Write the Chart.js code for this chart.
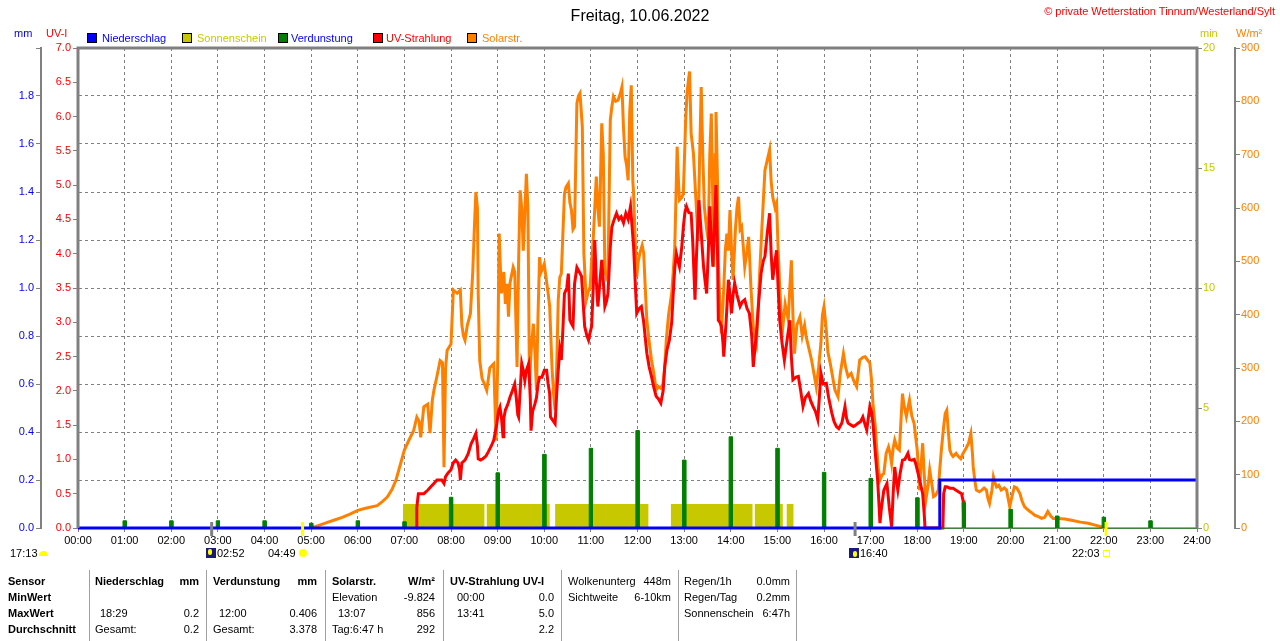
<!DOCTYPE html>
<html>
<head>
<meta charset="utf-8">
<script src="https://cdn.jsdelivr.net/npm/chart.js@4.4.0/dist/chart.umd.min.js"></script>
<style>
body { margin: 0; background: #fff; font-family: "Liberation Sans", Arial, sans-serif; font-size: 11px; }
#wrap { position: relative; width: 1280px; height: 641px; overflow: hidden; }
#myChart { position: absolute; left: 0; top: 0; }
.t { position: absolute; white-space: nowrap; line-height: 13px; }
.b { font-weight: bold; }
.sq { position: absolute; width: 8px; height: 8px; border: 1px solid #000; }
.sep { position: absolute; top: 570px; width: 1px; height: 71px; background: #a0a0a0; }
.moon { position: absolute; width: 10px; height: 10px; background: #1a1a7a; }
</style>
</head>
<body>
<div id="wrap">
<canvas id="myChart" width="1280" height="641"></canvas>

<div class="t" style="left:0;width:1280px;text-align:center;top:8px;font-size:16px;line-height:16px;">Freitag, 10.06.2022</div>
<div class="t" style="right:5px;top:5px;color:#f00;">© private Wetterstation Tinnum/Westerland/Sylt</div>

<div class="t" style="left:14px;top:27px;color:#00f;">mm</div>
<div class="t" style="left:46px;top:27px;color:#f00;">UV-I</div>
<div class="t" style="left:1200px;top:27px;color:#c8c800;">min</div>
<div class="t" style="left:1236px;top:27px;color:#ff8000;">W/m²</div>

<div class="sq" style="left:87px;top:33px;background:#00f;"></div>
<div class="t" style="left:102px;top:32px;color:#00f;">Niederschlag</div>
<div class="sq" style="left:182px;top:33px;background:#c8c800;"></div>
<div class="t" style="left:197px;top:32px;color:#c8c800;">Sonnenschein</div>
<div class="sq" style="left:278px;top:33px;background:#008000;"></div>
<div class="t" style="left:291px;top:32px;color:#00f;">Verdunstung</div>
<div class="sq" style="left:373px;top:33px;background:#f00;"></div>
<div class="t" style="left:386px;top:32px;color:#f00;">UV-Strahlung</div>
<div class="sq" style="left:467px;top:33px;background:#ff8000;"></div>
<div class="t" style="left:482px;top:32px;color:#ff8000;">Solarstr.</div>

<div class="t" style="left:10px;top:547px;">17:13</div>
<div style="position:absolute;left:39px;top:551px;width:9px;height:5px;background:#ff0;border-radius:5px 5px 0 0;"></div>
<div class="moon" style="left:206px;top:548px;"><div style="position:absolute;left:2px;top:1px;width:4px;height:6px;background:#ff0;border-radius:2px;"></div></div>
<div class="t" style="left:217px;top:547px;">02:52</div>
<div class="t" style="left:268px;top:547px;">04:49</div>
<div style="position:absolute;left:299px;top:549px;width:8px;height:8px;background:#ff0;border-radius:50%;"></div>
<div class="moon" style="left:849px;top:548px;"><div style="position:absolute;left:4px;top:3px;width:4px;height:6px;background:#ff0;border-radius:2px;"></div></div>
<div class="t" style="left:860px;top:547px;">16:40</div>
<div class="t" style="left:1072px;top:547px;">22:03</div>
<div style="position:absolute;left:1103px;top:550px;width:5px;height:5px;border:1px solid #ff0;"></div>

<div class="sep" style="left:89px;"></div>
<div class="sep" style="left:206px;"></div>
<div class="sep" style="left:325px;"></div>
<div class="sep" style="left:443px;"></div>
<div class="sep" style="left:561px;"></div>
<div class="sep" style="left:678px;"></div>
<div class="sep" style="left:796px;"></div>

<div class="t b" style="left:8px;top:575px;">Sensor</div>
<div class="t b" style="left:8px;top:591px;">MinWert</div>
<div class="t b" style="left:8px;top:607px;">MaxWert</div>
<div class="t b" style="left:8px;top:623px;">Durchschnitt</div>

<div class="t b" style="left:95px;top:575px;">Niederschlag</div>
<div class="t b" style="right:1081px;top:575px;">mm</div>
<div class="t" style="left:100px;top:607px;">18:29</div>
<div class="t" style="right:1081px;top:607px;">0.2</div>
<div class="t" style="left:95px;top:623px;">Gesamt:</div>
<div class="t" style="right:1081px;top:623px;">0.2</div>

<div class="t b" style="left:213px;top:575px;">Verdunstung</div>
<div class="t b" style="right:963px;top:575px;">mm</div>
<div class="t" style="left:219px;top:607px;">12:00</div>
<div class="t" style="right:963px;top:607px;">0.406</div>
<div class="t" style="left:213px;top:623px;">Gesamt:</div>
<div class="t" style="right:963px;top:623px;">3.378</div>

<div class="t b" style="left:332px;top:575px;">Solarstr.</div>
<div class="t b" style="right:845px;top:575px;">W/m²</div>
<div class="t" style="left:332px;top:591px;">Elevation</div>
<div class="t" style="right:845px;top:591px;">-9.824</div>
<div class="t" style="left:338px;top:607px;">13:07</div>
<div class="t" style="right:845px;top:607px;">856</div>
<div class="t" style="left:332px;top:623px;">Tag:6:47 h</div>
<div class="t" style="right:845px;top:623px;">292</div>

<div class="t b" style="left:450px;top:575px;">UV-Strahlung UV-I</div>
<div class="t" style="left:457px;top:591px;">00:00</div>
<div class="t" style="right:726px;top:591px;">0.0</div>
<div class="t" style="left:457px;top:607px;">13:41</div>
<div class="t" style="right:726px;top:607px;">5.0</div>
<div class="t" style="right:726px;top:623px;">2.2</div>

<div class="t" style="left:568px;top:575px;">Wolkenunterg</div>
<div class="t" style="right:609px;top:575px;">448m</div>
<div class="t" style="left:568px;top:591px;">Sichtweite</div>
<div class="t" style="right:609px;top:591px;">6-10km</div>

<div class="t" style="left:684px;top:575px;">Regen/1h</div>
<div class="t" style="right:490px;top:575px;">0.0mm</div>
<div class="t" style="left:684px;top:591px;">Regen/Tag</div>
<div class="t" style="right:490px;top:591px;">0.2mm</div>
<div class="t" style="left:684px;top:607px;">Sonnenschein</div>
<div class="t" style="right:490px;top:607px;">6:47h</div>
</div>

<script>
// Niederschlag (Summe, mm)
const rainTimes = ["00:00", "18:29", "24:00"];
const rainValues = [0, 0.2, 0.2];

// Sonnenschein (min), Intervalle mit Sonne
const sunStart = ["06:58", "08:46", "10:14", "12:43", "14:31", "15:12"];
const sunEnd = ["08:43", "10:07", "12:14", "14:28", "15:07", "15:21"];
const sunMinutes = 1;

// Verdunstung (mm) je Stunde
const evapHours = [1, 2, 3, 4, 5, 6, 7, 8, 9, 10, 11, 12, 13, 14, 15, 16, 17, 18, 19, 20, 21, 22, 23];
const evapValues = [0.03, 0.03, 0.03, 0.03, 0.02, 0.03, 0.026, 0.128, 0.23, 0.307, 0.332, 0.406, 0.283, 0.38, 0.332, 0.232, 0.207, 0.126, 0.105, 0.078, 0.05, 0.045, 0.03];

// UV-Strahlung (UV-I)
const uvTimes = [
    "07:15","07:16","07:18","07:25","07:30","07:34","07:38","07:42","07:48","07:51","07:53","07:56",
    "08:00","08:03","08:06","08:09","08:11","08:12","08:14","08:18","08:22","08:26","08:29","08:32","08:34","08:35","08:38","08:41","08:45","08:48","08:52","08:55","08:57","08:59",
    "09:01","09:03","09:05","09:07","09:08","09:10","09:13","09:16","09:19","09:22","09:24","09:26","09:27","09:29","09:31","09:33","09:35","09:37","09:40","09:42","09:43","09:45","09:48","09:50","09:52","09:54","09:57",
    "10:00","10:03","10:05","10:07","10:08","10:11","10:14","10:16","10:18","10:20","10:22","10:24","10:26","10:29","10:31","10:33","10:35","10:37","10:39","10:42","10:44","10:48","10:50","10:52","10:55","10:57","10:59",
    "11:01","11:03","11:05","11:07","11:09","11:11","11:14","11:16","11:18","11:20","11:22","11:25","11:27","11:30","11:33","11:36","11:39","11:42","11:45","11:48","11:51","11:53","11:55","11:57","11:59",
    "12:02","12:05","12:08","12:12","12:15","12:18","12:21","12:24","12:27","12:30","12:33","12:35","12:38","12:41","12:44","12:46","12:48","12:50","12:52","12:54","12:57","12:59",
    "13:01","13:03","13:06","13:09","13:11","13:14","13:16","13:19","13:22","13:25","13:27","13:29","13:31","13:33","13:35","13:37","13:39","13:41","13:43","13:44","13:46","13:48","13:50","13:51","13:54","13:57","13:59",
    "14:01","14:03","14:05","14:08","14:12","14:15","14:18","14:21","14:24","14:27","14:29","14:31","14:33","14:36","14:39","14:42","14:44","14:47","14:50","14:52","14:54","14:57","14:59",
    "15:01","15:03","15:06","15:09","15:12","15:16","15:18","15:20","15:24","15:27","15:30","15:33","15:36","15:40","15:43","15:46","15:49","15:52","15:54","15:56","15:59",
    "16:03","16:06","16:10","16:13","16:16","16:19","16:23","16:27","16:29","16:31","16:35","16:38","16:41","16:44","16:47","16:50","16:53","16:55","16:57","16:59",
    "17:01","17:03","17:06","17:09","17:11","17:12","17:14","17:17","17:19","17:21","17:24","17:27","17:29","17:31","17:33","17:35","17:38","17:41","17:44","17:48","17:50","17:53","17:56","17:58",
    "18:01","18:03","18:05","18:07","18:09","18:10","18:33","18:34","18:36","18:38","18:42","18:46","18:50","18:54","18:57","18:59","19:00"
];
const uvValues = [
    0, 0.3, 0.5, 0.5, 0.55, 0.6, 0.65, 0.7, 0.7, 0.65, 0.75, 0.8,
    0.85, 0.95, 0.99, 0.95, 0.85, 0.7, 0.95, 0.99, 1.08, 1.23, 1.3, 1.38, 1.2, 1.01, 0.99, 1.01, 1.05, 1.11, 1.2, 1.28, 1.4, 1.52,
    1.7, 1.76, 1.6, 1.33, 1.6, 1.72, 1.8, 1.91, 2.0, 2.1, 1.9, 1.65, 1.62, 2.0, 2.4, 2.3, 2.15, 2.3, 2.4, 1.9, 1.42, 1.7, 1.81, 1.9, 2.1, 2.2, 2.2,
    2.3, 2.3, 2.1, 1.96, 1.62, 1.57, 1.52, 1.96, 2.3, 2.6, 2.45, 2.9, 3.42, 3.5, 3.71, 3.03, 2.98, 2.94, 3.56, 3.8, 3.76, 3.67, 3.3, 2.94, 2.8, 2.74, 2.85,
    2.94, 3.5, 4.2, 3.6, 3.23, 3.5, 3.91, 3.6, 3.23, 3.3, 3.42, 4.1, 4.39, 4.5, 4.59, 4.5, 4.54, 4.45, 4.59, 4.5, 4.69, 4.4, 4.1, 3.6, 3.13,
    3.2, 3.23, 3.0, 2.55, 2.35, 2.21, 2.05, 1.92, 1.88, 1.82, 2.0, 2.35, 2.6, 2.74, 3.0, 3.42, 3.8, 4.0, 3.9, 3.81, 4.1, 4.39,
    4.6, 4.69, 4.6, 4.59, 4.2, 3.33, 4.0, 4.78, 4.3, 3.81, 3.6, 3.42, 4.0, 4.69, 4.2, 3.81, 4.4, 5.0, 4.0, 3.03, 3.0, 2.94, 2.7, 2.5, 3.0, 3.62, 3.4,
    3.13, 3.4, 3.57, 3.4, 3.23, 3.3, 3.33, 3.2, 3.13, 2.8, 2.35, 2.6, 2.84, 3.3, 3.71, 3.9, 3.96, 4.3, 4.59, 4.0, 3.62, 3.9, 4.05,
    3.5, 3.03, 2.7, 2.45, 2.7, 3.03, 2.5, 2.16, 2.2, 2.21, 2.0, 1.77, 1.9, 1.96, 1.85, 1.77, 1.7, 1.58, 1.9, 2.26, 2.1,
    2.11, 1.9, 1.68, 1.55, 1.48, 1.45, 1.53, 1.77, 1.6, 1.53, 1.5, 1.48, 1.5, 1.53, 1.55, 1.62, 1.5, 1.43, 1.6, 1.77,
    1.7, 1.53, 1.1, 0.7, 0.3, 0.07, 0.3, 0.55, 0.6, 0.65, 0.3, 0.02, 0.5, 0.89, 0.7, 0.55, 0.8, 0.99, 1.0, 1.09, 1.0, 0.99, 1.0, 0.94,
    0.8, 0.7, 0.6, 0.5, 0.2, 0, 0, 0.5, 0.6, 0.6, 0.58, 0.58, 0.55, 0.52, 0.5, 0.4, 0
];

// Solarstrahlung (W/m²)
const solarTimes = [
    "05:00","05:10","05:20","05:30","05:40","05:50","06:00","06:10","06:25","06:32","06:38","06:44","06:49","06:55",
    "07:00","07:06","07:12","07:16","07:19","07:21","07:25","07:30","07:33","07:36","07:38","07:42","07:46","07:49","07:51","07:53","07:55",
    "08:00","08:03","08:08","08:12","08:14","08:16","08:18","08:21","08:25","08:28","08:30","08:32","08:34","08:35","08:37","08:40","08:43","08:46","08:50","08:53","08:55","08:58",
    "09:00","09:02","09:04","09:05","09:08","09:10","09:12","09:14","09:16","09:20","09:22","09:25","09:27","09:29","09:31","09:33","09:35","09:37","09:39","09:41","09:43","09:46","09:48","09:50","09:52","09:54","09:56",
    "10:00","10:05","10:07","10:10","10:12","10:14","10:16","10:18","10:20","10:22","10:26","10:28","10:31","10:33","10:35","10:37","10:39","10:42","10:44","10:46","10:49","10:51","10:54","10:57","10:59",
    "11:01","11:03","11:05","11:07","11:09","11:11","11:14","11:16","11:18","11:20","11:22","11:25","11:27","11:29","11:32","11:35","11:38","11:40","11:42","11:44","11:46","11:48","11:50","11:52","11:54","11:55","11:57","11:59",
    "12:01","12:03","12:06","12:08","12:10","12:12","12:15","12:18","12:21","12:24","12:27","12:30","12:33","12:35","12:37","12:40","12:44","12:46","12:48","12:51","12:53","12:54","12:57","12:59",
    "13:02","13:04","13:06","13:07","13:09","13:12","13:15","13:18","13:20","13:22","13:24","13:26","13:29","13:31","13:33","13:35","13:37","13:38","13:40","13:41","13:43","13:44","13:46","13:48","13:51","13:53","13:55","13:57","13:59",
    "14:01","14:03","14:06","14:08","14:10","14:12","14:14","14:16","14:18","14:21","14:23","14:26","14:29","14:31","14:33","14:35","14:37","14:40","14:44","14:47","14:50","14:52","14:54","14:57","14:59",
    "15:01","15:03","15:05","15:07","15:10","15:14","15:16","15:18","15:20","15:22","15:25","15:29","15:32","15:35","15:37","15:40","15:44","15:47","15:50","15:53","15:56","15:58",
    "16:00","16:03","16:05","16:08","16:11","16:14","16:18","16:21","16:25","16:28","16:31","16:35","16:38","16:42","16:46","16:50","16:53","16:56","16:59",
    "17:01","17:03","17:06","17:08","17:10","17:12","17:15","17:17","17:20","17:23","17:25","17:27","17:29","17:31","17:34","17:37","17:39","17:41","17:43","17:46","17:48","17:50","17:53","17:56","17:58",
    "18:00","18:02","18:03","18:05","18:07","18:09","18:11","18:14","18:16","18:19","18:21","18:24","18:27","18:29","18:31","18:34","18:36","18:38","18:40","18:42","18:44","18:46","18:50","18:53","18:56","18:59",
    "19:03","19:06","19:09","19:11","19:12","19:14","19:16","19:20","19:23","19:26","19:29","19:31","19:33","19:36","19:38","19:40","19:42","19:45","19:48","19:52","19:55","19:57","19:59",
    "20:02","20:05","20:08","20:12","20:15","20:18","20:21","20:25","20:28","20:31","20:35","20:40","20:44","20:48","20:52","20:55",
    "21:01","21:10","21:20","21:30","21:40","21:50","21:58","22:03"
];
const solarValues = [
    0, 5, 10, 15, 20, 26, 33, 37, 42, 50, 58, 72, 89, 120,
    146, 165, 183, 208, 200, 170, 227, 232, 178, 240, 258, 285, 314, 310, 114, 300, 333,
    345, 446, 440, 446, 380, 360, 352, 380, 402, 480, 560, 630, 600, 440, 314, 280, 270, 258, 300, 305, 308, 164,
    300, 552, 470, 440, 480, 420, 458, 396, 460, 489, 480, 302, 500, 633, 600, 520, 590, 664, 600, 270, 330, 383, 330, 258, 400, 508, 480,
    495, 440, 415, 300, 252, 221, 300, 427, 470, 477, 627, 639, 646, 610, 596, 560, 565, 796, 810, 815, 752, 515, 427, 445, 452,
    500, 540, 600, 659, 600, 565, 759, 700, 484, 470, 477, 765, 790, 809, 800, 802, 815, 827, 750, 696, 680, 652, 780, 830, 650, 627, 540, 471,
    500, 515, 530, 515, 450, 390, 350, 315, 290, 259, 265, 262, 271, 300, 352, 400, 440, 480, 527, 715, 640, 615, 620, 627,
    765, 820, 845, 856, 740, 702, 620, 540, 700, 827, 700, 602, 560, 540, 700, 777, 600, 490, 700, 780, 650, 502, 420, 365, 450, 520, 552, 520, 596,
    520, 465, 560, 600, 621, 560, 565, 530, 490, 520, 546, 450, 377, 360, 346, 400, 471, 560, 671, 690, 709, 650, 621, 600, 609,
    520, 452, 400, 377, 420, 390, 450, 502, 400, 327, 380, 396, 360, 380, 359, 340, 315, 290, 265, 300, 346, 400,
    415, 371, 330, 309, 284, 259, 246, 290, 327, 300, 284, 290, 277, 265, 315, 320, 321, 315, 309,
    280, 234, 190, 146, 110, 90, 100, 102, 140, 152, 140, 121, 150, 165, 150, 146, 200, 252, 230, 209, 225, 240, 210, 196, 170,
    146, 100, 71, 120, 159, 100, 52, 80, 109, 80, 59, 62, 71, 110, 146, 190, 215, 221, 180, 146, 138, 134, 140, 134, 130, 140,
    150, 159, 177, 140, 115, 90, 71, 68, 71, 75, 71, 55, 46, 70, 96, 85, 77, 80, 71, 75, 71, 55, 40,
    60, 77, 75, 65, 50, 40, 36, 31, 28, 24, 22, 18, 20, 31, 22, 18,
    18, 17, 14, 11, 9, 5, 2, 0
];

// Sonne/Mond-Zeiten an der Zeitachse
const markerTimes = ["02:52", "04:49", "16:40", "22:03"];
const markerColors = ["#808080", "#ffff00", "#808080", "#ffff00"];

const toHours = s => {
    const p = s.split(":");
    return +p[0] + +p[1] / 60;
};
const toPoints = (times, values) => times.map((s, i) => ({ x: toHours(s), y: values[i] }));

const sunPoints = [];
sunStart.forEach((s, i) => {
    const a = toHours(s);
    const b = toHours(sunEnd[i]);
    sunPoints.push({ x: a, y: 0 }, { x: a, y: sunMinutes }, { x: b, y: sunMinutes }, { x: b, y: 0 });
});

const evapPoints = [{ x: 0, y: 0 }];
evapHours.forEach((h, i) => {
    evapPoints.push({ x: h - 0.035, y: 0 }, { x: h - 0.035, y: evapValues[i] }, { x: h + 0.035, y: evapValues[i] }, { x: h + 0.035, y: 0 });
});
evapPoints.push({ x: 24, y: 0 });

const font = { family: "'Liberation Sans', Arial, sans-serif", size: 11 };

const framePlugin = {
    id: "frame",
    afterDatasetsDraw(chart) {
        const { ctx, chartArea: a, scales } = chart;
        ctx.save();
        ctx.strokeStyle = "#808080";
        ctx.lineWidth = 3;
        ctx.beginPath();
        ctx.moveTo(a.left, a.bottom);
        ctx.lineTo(a.left, a.top);
        ctx.lineTo(a.right, a.top);
        ctx.lineTo(a.right, a.bottom);
        ctx.stroke();
        markerTimes.forEach((s, i) => {
            const x = scales.x.getPixelForValue(toHours(s));
            ctx.strokeStyle = markerColors[i];
            ctx.lineWidth = 3;
            ctx.beginPath();
            ctx.moveTo(x, a.bottom - 6);
            ctx.lineTo(x, a.bottom + 8);
            ctx.stroke();
        });
        ctx.restore();
    },
};

const printChart = () => {
    const ctx = document.getElementById("myChart").getContext("2d");
    new Chart(ctx, {
        type: "line",
        data: {
            datasets: [
                {
                    label: "Niederschlag",
                    data: toPoints(rainTimes, rainValues),
                    yAxisID: "mm",
                    borderColor: "#0000ff",
                    borderWidth: 3,
                    stepped: "before",
                    order: 1,
                },
                {
                    label: "Verdunstung",
                    data: evapPoints,
                    yAxisID: "mm",
                    borderColor: "#008000",
                    backgroundColor: "#008000",
                    borderWidth: 1,
                    fill: "origin",
                    order: 2,
                },
                {
                    label: "UV-Strahlung",
                    data: toPoints(uvTimes, uvValues),
                    yAxisID: "uv",
                    borderColor: "#ff0000",
                    borderWidth: 3,
                    order: 3,
                },
                {
                    label: "Solarstr.",
                    data: toPoints(solarTimes, solarValues),
                    yAxisID: "wm",
                    borderColor: "#ff8000",
                    borderWidth: 3,
                    order: 4,
                },
                {
                    label: "Sonnenschein",
                    data: sunPoints,
                    yAxisID: "min",
                    borderColor: "#c8c800",
                    backgroundColor: "#c8c800",
                    borderWidth: 0,
                    fill: "origin",
                    order: 5,
                },
            ],
        },
        options: {
            responsive: false,
            animation: false,
            layout: { padding: { left: 0, right: 0, top: 48, bottom: 87 } },
            elements: { point: { radius: 0 }, line: { tension: 0 } },
            datasets: { line: { clip: 4 } },
            plugins: { legend: { display: false }, tooltip: { enabled: false } },
            scales: {
                x: {
                    type: "linear",
                    min: 0,
                    max: 24,
                    ticks: {
                        stepSize: 1,
                        autoSkip: false,
                        maxRotation: 0,
                        color: "#000",
                        font: font,
                        padding: 2,
                        callback: v => String(v).padStart(2, "0") + ":00",
                    },
                    grid: { color: "#808080", tickLength: 4, tickColor: "#808080" },
                    border: { display: true, color: "#808080", dash: [3, 3] },
                    afterFit: s => { s.height = 26; },
                },
                mm: {
                    type: "linear",
                    position: "left",
                    weight: 2,
                    min: 0,
                    max: 2,
                    ticks: {
                        stepSize: 0.2,
                        color: "#0000ff",
                        font: font,
                        padding: 2,
                        callback: v => (v > 1.99 ? "" : v.toFixed(1)),
                    },
                    grid: { color: "#808080", tickLength: 5, tickColor: "#808080" },
                    border: { display: true, color: "#808080", width: 2, dash: [3, 3] },
                    afterFit: s => { s.width = 41; },
                },
                uv: {
                    type: "linear",
                    position: "left",
                    weight: 1,
                    min: 0,
                    max: 7,
                    ticks: {
                        stepSize: 0.5,
                        color: "#ff0000",
                        font: font,
                        padding: 2,
                        callback: v => v.toFixed(1),
                    },
                    grid: { drawOnChartArea: false, tickLength: 5, color: "#808080" },
                    border: { display: true, color: "#808080" },
                    afterFit: s => { s.width = 37; },
                },
                min: {
                    type: "linear",
                    position: "right",
                    weight: 1,
                    min: 0,
                    max: 20,
                    ticks: { stepSize: 5, color: "#c8c800", font: font, padding: 1 },
                    grid: { drawOnChartArea: false, tickLength: 5, color: "#808080" },
                    border: { display: true, color: "#808080" },
                    afterFit: s => { s.width = 38; },
                },
                wm: {
                    type: "linear",
                    position: "right",
                    weight: 2,
                    min: 0,
                    max: 900,
                    ticks: { stepSize: 100, color: "#ff8000", font: font, padding: 1 },
                    grid: { drawOnChartArea: false, tickLength: 5, color: "#808080" },
                    border: { display: true, color: "#808080", width: 2 },
                    afterFit: s => { s.width = 45; },
                },
            },
        },
        plugins: [framePlugin],
    });
};

printChart();
</script>
</body>
</html>
